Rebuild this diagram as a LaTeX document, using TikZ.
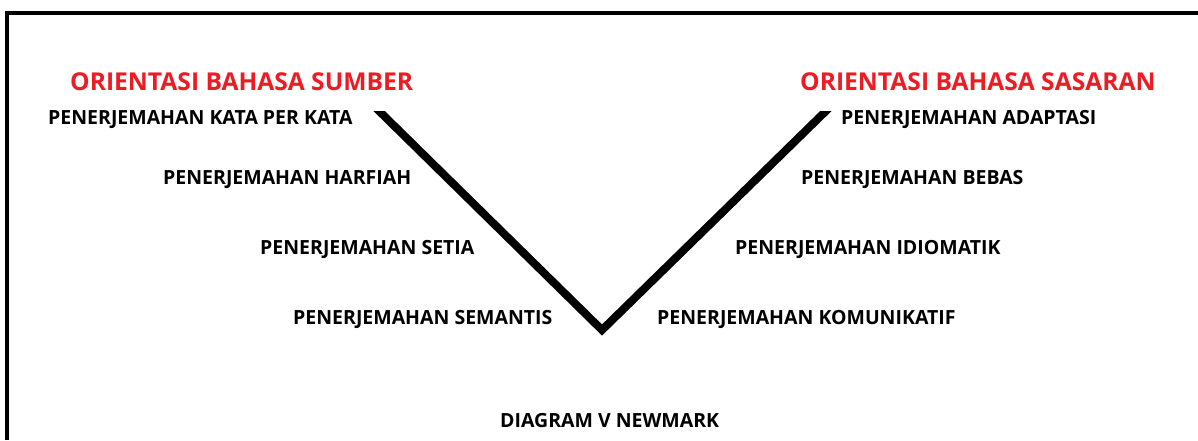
\documentclass[tikz,border=0pt]{standalone}
\usepackage{fontspec}
\setmainfont{Open Sans}
\definecolor{hred}{RGB}{237,28,36}
\begin{document}
\begin{tikzpicture}[x=1pt,y=-1pt,
  lbl/.style={anchor=base west,inner sep=0pt,font=\fontsize{19.5}{19.5}\selectfont\bfseries,text=black},
  head/.style={anchor=base west,inner sep=0pt,font=\fontsize{24.6}{24.6}\selectfont\bfseries,text=hred},
  vline/.style={line width=8pt,line join=miter},
  frame/.style={line width=4pt}]
\useasboundingbox (0,0) rectangle (1198,440);
\fill[white] (0,0) rectangle (1198,440);
% frame
\coordinate (fb) at (7,440);
\coordinate (fc) at (7,13);
\coordinate (fr) at (1198,13);
\draw[frame] (fb) -- (fc) -- (fr);
% headers
\node[head] (hs) at (70,90) {ORIENTASI BAHASA SUMBER};
\node[head] (ht) at (800,90) {ORIENTASI BAHASA SASARAN};
% left labels
\node[lbl] (l1) at (48,124) {PENERJEMAHAN KATA PER KATA};
\node[lbl] (l2) at (163,184) {PENERJEMAHAN HARFIAH};
\node[lbl] (l3) at (260,254) {PENERJEMAHAN SETIA};
\node[lbl] (l4) at (293,324) {PENERJEMAHAN SEMANTIS};
% right labels
\node[lbl] (r1) at (841,124) {PENERJEMAHAN ADAPTASI};
\node[lbl] (r2) at (801,184) {PENERJEMAHAN BEBAS};
\node[lbl] (r3) at (735,254) {PENERJEMAHAN IDIOMATIK};
\node[lbl] (r4) at (657,324) {PENERJEMAHAN KOMUNIKATIF};
% caption
\node[lbl] (cap) at (500,427) {DIAGRAM V NEWMARK};
% V (tops cut horizontally)
\coordinate (vl) at (374,106);
\coordinate (va) at (602,330);
\coordinate (vr) at (831,106);
\begin{scope}
\clip (300,111) rectangle (900,360);
\draw[vline] (vl) -- (va) -- (vr);
\end{scope}
\end{tikzpicture}
\end{document}
